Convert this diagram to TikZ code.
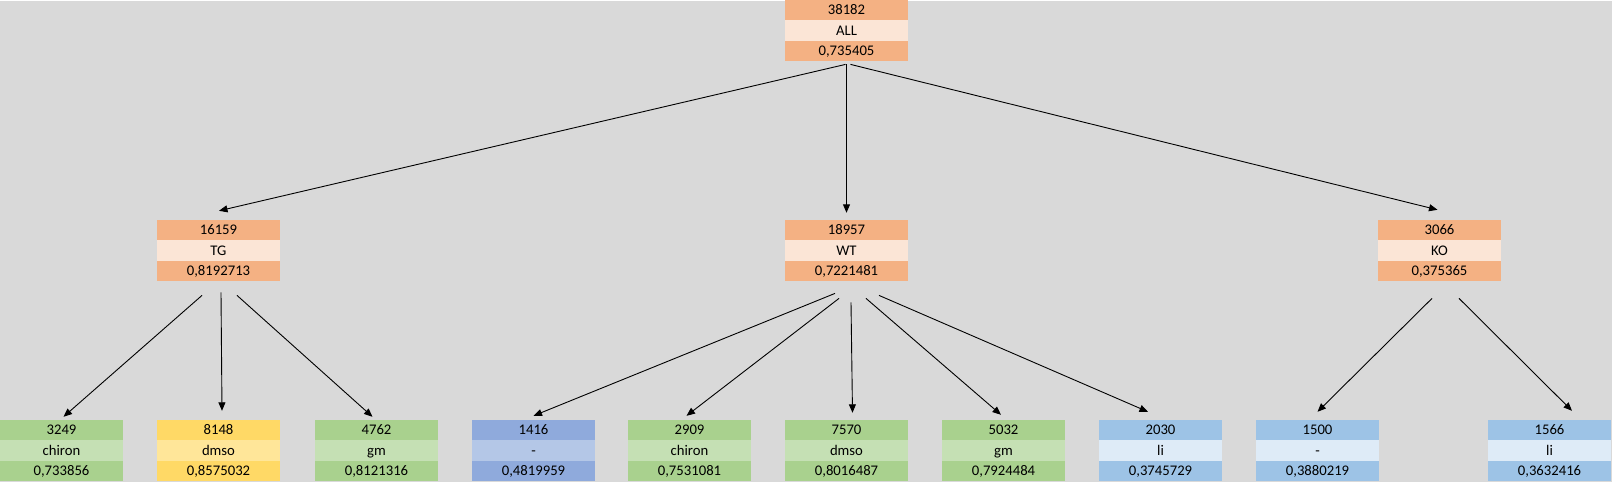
\documentclass[tikz,border=0pt]{standalone}
\usepackage{fontspec}
\setmainfont{Carlito}
\usetikzlibrary{shapes.multipart,arrows.meta,calc}

\definecolor{bgGray}{HTML}{D9D9D9}
\definecolor{orDark}{HTML}{F4B183}
\definecolor{orLight}{HTML}{FBE5D6}
\definecolor{grDark}{HTML}{A9D18E}
\definecolor{grLight}{HTML}{C5E0B4}
\definecolor{yeDark}{HTML}{FFD966}
\definecolor{yeLight}{HTML}{FFE699}
\definecolor{blDark}{HTML}{8FAADC}
\definecolor{blLight}{HTML}{B4C7E7}
\definecolor{skDark}{HTML}{9DC3E6}
\definecolor{skLight}{HTML}{DEEBF7}

% one row of a box, 20pt high
\newcommand{\cellrow}[1]{\rule[-5.3pt]{0pt}{20pt}#1}
\newcommand{\boxrows}[3]{\cellrow{#1}\nodepart{two}\cellrow{#2}\nodepart{three}\cellrow{#3}}

\begin{document}
\begin{tikzpicture}[x=1pt, y=-1pt,
  every node/.style={rectangle split, rectangle split parts=3, inner sep=0pt,
    minimum width=123pt, font=\fontsize{14.7}{17}\selectfont, text=black},
  orbox/.style={rectangle split part fill={orDark,orLight,orDark}},
  grbox/.style={rectangle split part fill={grDark,grLight,grDark}},
  yebox/.style={rectangle split part fill={yeDark,yeLight,yeDark}},
  blbox/.style={rectangle split part fill={blDark,blLight,blDark}},
  skbox/.style={rectangle split part fill={skDark,skLight,skDark}},
  link/.style={draw, line width=0.9pt, -{Triangle[length=8.5pt,width=7pt]}}]
\fill[bgGray] (0,0) rectangle (1612,481);
% root
\node[orbox] (ALL) at (846.5,30) {\boxrows{38182}{ALL}{0,735405}};
% groups
\node[orbox] (TG) at (218.5,250) {\boxrows{16159}{TG}{0,8192713}};
\node[orbox] (WT) at (846.5,250) {\boxrows{18957}{WT}{0,7221481}};
\node[orbox] (KO) at (1439.5,250) {\boxrows{3066}{KO}{0,375365}};
% leaves
\node[grbox] (TGchiron) at (61.5,450) {\boxrows{3249}{chiron}{0,733856}};
\node[yebox] (TGdmso) at (218.5,450) {\boxrows{8148}{dmso}{0,8575032}};
\node[grbox] (TGgm) at (376.5,450) {\boxrows{4762}{gm}{0,8121316}};
\node[blbox] (WTnone) at (533.5,450) {\boxrows{1416}{-}{0,4819959}};
\node[grbox] (WTchiron) at (689.5,450) {\boxrows{2909}{chiron}{0,7531081}};
\node[grbox] (WTdmso) at (846.5,450) {\boxrows{7570}{dmso}{0,8016487}};
\node[grbox] (WTgm) at (1003.5,450) {\boxrows{5032}{gm}{0,7924484}};
\node[skbox] (WTli) at (1160.5,450) {\boxrows{2030}{li}{0,3745729}};
\node[skbox] (KOnone) at (1317.5,450) {\boxrows{1500}{-}{0,3880219}};
\node[skbox] (KOli) at (1549.5,450) {\boxrows{1566}{li}{0,3632416}};
% root -> groups
\draw[link] ($(ALL.south)+(-1,3)$) -- ($(TG.north)+(0.5,-9)$);
\draw[link] ($(ALL.south)+(0,3)$) -- ($(WT.north)+(0,-7)$);
\draw[link] ($(ALL.south)+(4,3)$) -- ($(KO.north)+(-2,-10)$);
% TG -> leaves
\draw[link] ($(TG.south)+(-16.5,14)$) -- ($(TGchiron.north)+(2,-3)$);
\draw[link] ($(TG.south)+(2.5,11)$) -- ($(TGdmso.north)+(3.5,-9)$);
\draw[link] ($(TG.south)+(18.5,14)$) -- ($(TGgm.north)+(-4,-3)$);
% WT -> leaves
\draw[link] ($(WT.south)+(-11.5,12)$) -- ($(WTnone.north)+(0,-4)$);
\draw[link] ($(WT.south)+(-7.5,17)$) -- ($(WTchiron.north)+(-3,-4)$);
\draw[link] ($(WT.south)+(4.5,21)$) -- ($(WTdmso.north)+(6,-7)$);
\draw[link] ($(WT.south)+(19.5,17)$) -- ($(WTgm.north)+(-2.5,-5)$);
\draw[link] ($(WT.south)+(32.5,14)$) -- ($(WTli.north)+(-12.5,-8)$);
% KO -> leaves
\draw[link] ($(KO.south)+(-7.5,17)$) -- ($(KOnone.north)+(0,-8)$);
\draw[link] ($(KO.south)+(19.5,17)$) -- ($(KOli.north)+(22.5,-9)$);
\end{tikzpicture}
\end{document}
